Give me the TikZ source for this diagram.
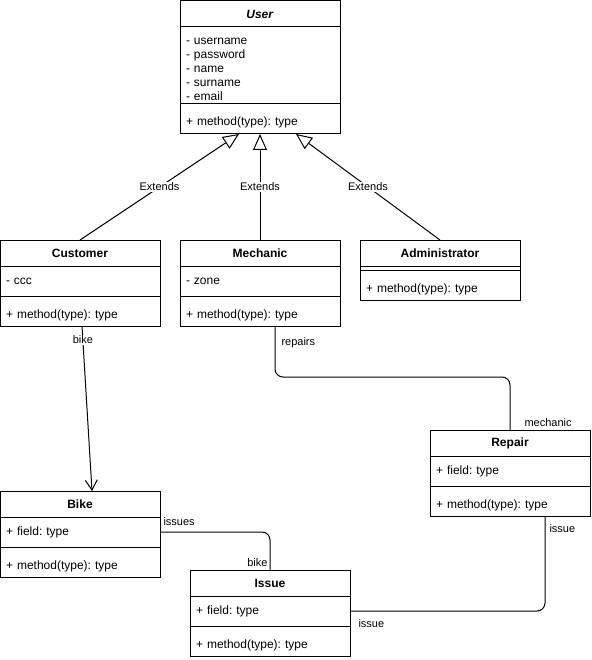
\documentclass[tikz,border=0pt]{standalone}
\usepackage{fontspec}
\setmainfont{Liberation Sans}
\frenchspacing
\usetikzlibrary{positioning, calc, arrows.meta}
\newcommand{\clsfont}{\fontsize{12}{14}\selectfont}
\newcommand{\lblfont}{\fontsize{11}{13}\selectfont}
\tikzset{cls/.style={draw, line width=1pt, minimum width=160pt, inner sep=0pt, outer sep=0pt, font=\clsfont}}
\tikzset{clstitle/.style={cls, minimum height=26pt, font=\clsfont\bfseries}}
\tikzset{clspart/.style={cls, text width=148pt, align=left, minimum height=#1}}
\tikzset{clsmeth/.style={clspart=30pt, text height=16pt, text depth=2pt}}
\tikzset{lbl/.style={font=\lblfont, inner sep=1pt}}
\tikzset{ext/.style={draw, line width=1pt, -{Triangle[open, length=16pt, width=14pt]}}}
\tikzset{assoc/.style={draw, line width=1pt, rounded corners=8pt}}
\tikzset{nav/.style={draw, line width=1pt, -{Straight Barb[length=10pt, width=12pt]}}}
\begin{document}
\begin{tikzpicture}[x=1pt, y=-1pt]
	\useasboundingbox (0,0) rectangle (591,660);
	%
	\node[clstitle] (user) at (260,14) {\textit{User}};
	\node[clspart=77pt, text height=13.5pt, below=0pt of user] (user-a) {- username\\- password\\- name\\- surname\\- email};
	\node[clsmeth, below=0pt of user-a] (user-m) {+ method(type): type};
	%
	\node[clstitle] (cust) at (80,253) {Customer};
	\node[clspart=30pt, below=0pt of cust] (cust-a) {- ccc};
	\node[clsmeth, below=0pt of cust-a] (cust-m) {+ method(type): type};
	%
	\node[clstitle] (mech) at (260,253) {Mechanic};
	\node[clspart=30pt, below=0pt of mech] (mech-a) {- zone};
	\node[clsmeth, below=0pt of mech-a] (mech-m) {+ method(type): type};
	%
	\node[clstitle] (admin) at (440,253) {Administrator};
	\node[clspart=4pt, below=0pt of admin] (admin-a) {};
	\node[clsmeth, below=0pt of admin-a] (admin-m) {+ method(type): type};
	%
	\node[clstitle] (repair) at (510,443) {Repair};
	\node[clspart=30pt, below=0pt of repair] (repair-a) {+ field: type};
	\node[clsmeth, below=0pt of repair-a] (repair-m) {+ method(type): type};
	%
	\node[clstitle] (bike) at (80,504) {Bike};
	\node[clspart=30pt, below=0pt of bike] (bike-a) {+ field: type};
	\node[clsmeth, below=0pt of bike-a] (bike-m) {+ method(type): type};
	%
	\node[clstitle] (issue) at (270,583) {Issue};
	\node[clspart=30pt, below=0pt of issue] (issue-a) {+ field: type};
	\node[clsmeth, below=0pt of issue-a] (issue-m) {+ method(type): type};
	%
	\draw[ext] (cust.north) --
		node[lbl, fill=white] {Extends} ($(user-m.south)+(-21,0)$);
	\draw[ext] (mech.north) --
		node[lbl, fill=white] {Extends} (user-m.south);
	\draw[ext] (admin.north) --
		node[lbl, fill=white] {Extends} ($(user-m.south)+(36,0)$);
	%
	\draw[nav] ($(cust-m.south)+(2,0)$) --
		node[lbl, fill=white, pos=0.085] {bike} ($(bike.north)+(12,0)$);
	%
	\draw[assoc] ($(mech-m.south)+(15,0)$)
		node[lbl, anchor=west, xshift=5pt, yshift=-17pt] {repairs}
		-- ++(0,51) -| (repair.north)
		node[lbl, anchor=west, xshift=13pt, yshift=7pt] {mechanic};
	\draw[assoc] (bike-a.east)
		node[lbl, anchor=west, xshift=2pt, yshift=10pt] {issues}
		-| (issue.north)
		node[lbl, anchor=east, xshift=-1pt, yshift=7pt] {bike};
	\draw[assoc] ($(repair-m.south)+(35,0)$)
		node[lbl, anchor=west, xshift=3pt, yshift=-13pt] {issue}
		|- (issue-a.east)
		node[lbl, anchor=west, xshift=7pt, yshift=-13pt] {issue};
\end{tikzpicture}
\end{document}
